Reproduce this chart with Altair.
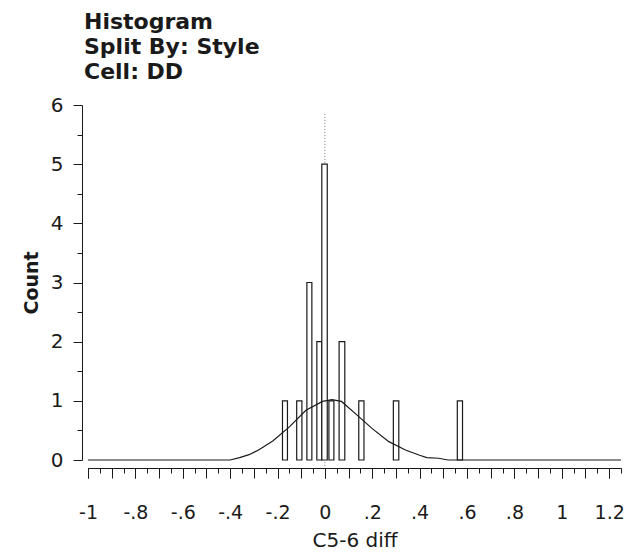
import altair as alt
import pandas as pd

# ---- data ----
bin_start = [-0.179, -0.119, -0.076, -0.034, -0.013, 0.017, 0.060, 0.143, 0.289, 0.559]
bin_end   = [-0.158, -0.097, -0.055, -0.013, 0.010, 0.038, 0.084, 0.165, 0.312, 0.581]
counts    = [1, 1, 3, 2, 5, 1, 2, 1, 1, 1]

curve_x = [-1.0, -0.40, -0.36, -0.32, -0.28, -0.22, -0.15, -0.08, -0.01, 0.03,
           0.07, 0.13, 0.20, 0.27, 0.34, 0.40, 0.43, 0.48, 0.52, 1.25]
curve_y = [0, 0, 0.04, 0.09, 0.17, 0.32, 0.56, 0.84, 0.99, 1.02,
           0.99, 0.78, 0.53, 0.31, 0.17, 0.08, 0.04, 0.03, 0, 0]

ref_x = [0.0]
ref_top = [5.85]
ref_bottom = [-0.12]

x_label_values = [-1.0, -0.8, -0.6, -0.4, -0.2, 0.0, 0.2, 0.4, 0.6, 0.8, 1.0, 1.2]
x_major_values = [-1.0, -0.9, -0.8, -0.7, -0.6, -0.5, -0.4, -0.3, -0.2, -0.1, 0.0,
                  0.1, 0.2, 0.3, 0.4, 0.5, 0.6, 0.7, 0.8, 0.9, 1.0, 1.1, 1.2]
x_minor_values = [-0.95, -0.85, -0.75, -0.65, -0.55, -0.45, -0.35, -0.25, -0.15, -0.05,
                  0.05, 0.15, 0.25, 0.35, 0.45, 0.55, 0.65, 0.75, 0.85, 0.95, 1.05, 1.15, 1.25]
y_major_values = [0, 1, 2, 3, 4, 5, 6]
y_minor_values = [0.5, 1.5, 2.5, 3.5, 4.5, 5.5]

title_lines = ["Histogram", "Split By: Style", "Cell: DD"]
x_title = "C5-6 diff"
y_title = "Count"

bars = pd.DataFrame({"start": bin_start, "end": bin_end, "count": counts, "zero": [0] * len(counts)})
curve = pd.DataFrame({"x": curve_x, "y": curve_y})
ref = pd.DataFrame({"x": ref_x, "top": ref_top, "bottom": ref_bottom})

FONT = "DejaVu Sans"
INK = "#1a1a1a"

xscale = alt.Scale(domain=[-1.0, 1.25], nice=False, zero=False)
yscale = alt.Scale(domain=[0, 6], nice=False)

label_expr = "datum.value == 0 ? '0' : replace(toString(datum.value), '0.', '.')"

x_axis_labels = alt.Axis(values=x_label_values, labelExpr=label_expr, orient="bottom",
                         offset=8, tickSize=10, grid=False, domain=True,
                         labelFont=FONT, labelFontSize=19, labelColor=INK, labelPadding=25,
                         title=x_title, titleFont=FONT, titleFontSize=20, titleFontWeight="normal",
                         titleColor=INK, titlePadding=8, tickColor=INK, domainColor=INK,
                         labelFlush=False)
x_axis_major = alt.Axis(values=x_major_values, orient="bottom", offset=8, tickSize=10,
                        labels=False, grid=False, domain=True, title=None,
                        tickColor=INK, domainColor=INK)
x_axis_minor = alt.Axis(values=x_minor_values, orient="bottom", offset=8, tickSize=5,
                        labels=False, grid=False, domain=False, title=None, tickColor=INK)

y_axis_major = alt.Axis(values=y_major_values, orient="left", offset=6, tickSize=9,
                        grid=False, domain=True, labelFont=FONT, labelFontSize=20,
                        labelColor=INK, labelPadding=10, title=y_title, titleFont=FONT,
                        titleFontSize=19, titleFontWeight="bold", titleColor=INK,
                        titlePadding=9, tickColor=INK, domainColor=INK, labelFlush=False)
y_axis_minor = alt.Axis(values=y_minor_values, orient="left", offset=6, tickSize=5,
                        labels=False, grid=False, domain=False, title=None, tickColor=INK)

bar_layer = alt.Chart(bars).mark_rect(fill="white", stroke=INK, strokeWidth=1.2).encode(
    x=alt.X("start:Q", scale=xscale, axis=x_axis_labels),
    x2="end:Q",
    y=alt.Y("count:Q", scale=yscale, axis=y_axis_major),
    y2="zero:Q",
)

curve_layer = alt.Chart(curve).mark_line(color=INK, strokeWidth=1.2).encode(
    x=alt.X("x:Q", scale=xscale, axis=x_axis_major),
    y=alt.Y("y:Q", scale=yscale, axis=y_axis_minor),
)

ref_layer = alt.Chart(ref).mark_rule(color="#777777", strokeDash=[1, 2], strokeWidth=1).encode(
    x=alt.X("x:Q", scale=xscale, axis=x_axis_minor),
    y=alt.Y("top:Q", scale=yscale, axis=None),
    y2="bottom:Q",
)

chart = alt.layer(ref_layer, bar_layer, curve_layer).resolve_axis(
    x="independent", y="independent"
).properties(
    width=533,
    height=355,
    autosize=alt.AutoSizeParams(type="none"),
    padding={"left": 88, "top": 105, "right": 21, "bottom": 94},
    background="white",
    title=alt.TitleParams(text=title_lines, anchor="start", frame="group", fontSize=22,
                          font=FONT, fontWeight="bold", color=INK, lineHeight=25,
                          offset=11, dx=-4),
).configure_view(stroke=None)

chart.save("out.html", embed_options={"renderer": "svg", "actions": False})
